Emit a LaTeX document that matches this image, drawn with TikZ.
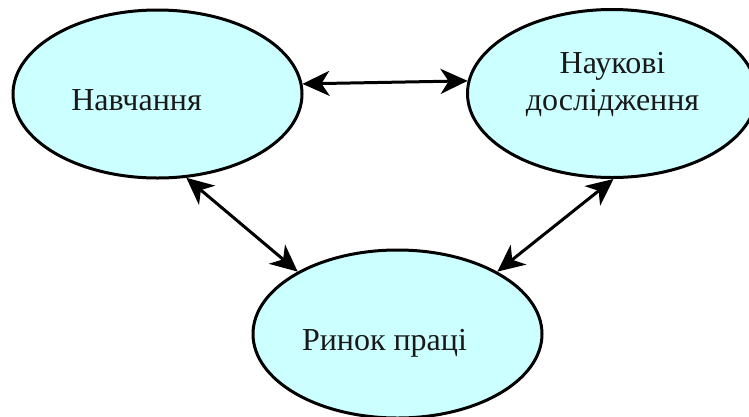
\documentclass[tikz,border=0pt]{standalone}
\usepackage{fontspec}
\setmainfont{Liberation Serif}
\usetikzlibrary{shapes.geometric,arrows.meta}
\definecolor{ellfill}{HTML}{CCFFFF}
\tikzset{
  ell/.style={ellipse, draw=black, line width=3pt, fill=ellfill, minimum width=289pt, minimum height=168pt, inner sep=0pt},
  lbl/.style={anchor=base, inner sep=0pt, font=\fontsize{32}{38}\selectfont, text=black!90},
  link/.style={line width=3pt, {Stealth[length=27pt,width=25pt,inset=8pt]}-{Stealth[length=27pt,width=25pt,inset=8pt]}, shorten <=0pt, shorten >=0pt}
}
\begin{document}
\begin{tikzpicture}[x=1pt,y=-1pt]
\useasboundingbox (0,0) rectangle (749,416);
\node[ell] (a) at (157.5,94) {};
\node[ell] (b) at (612,93.5) {};
\node[ell] (c) at (397.5,334) {};
\node[lbl] (ta) at (136.5,110) {Навчання};
\node[lbl] (tb1) at (612.5,73) {Наукові};
\node[lbl] (tb2) at (612.5,110) {дослідження};
\node[lbl] (tc) at (384.5,350) {Ринок праці};
\draw[link] (a.4.9) -- (b.175.25);
\draw[link] (a.-71.6) -- (c.148);
\draw[link] (b.-89) -- (c.32.5);
\end{tikzpicture}
\end{document}
